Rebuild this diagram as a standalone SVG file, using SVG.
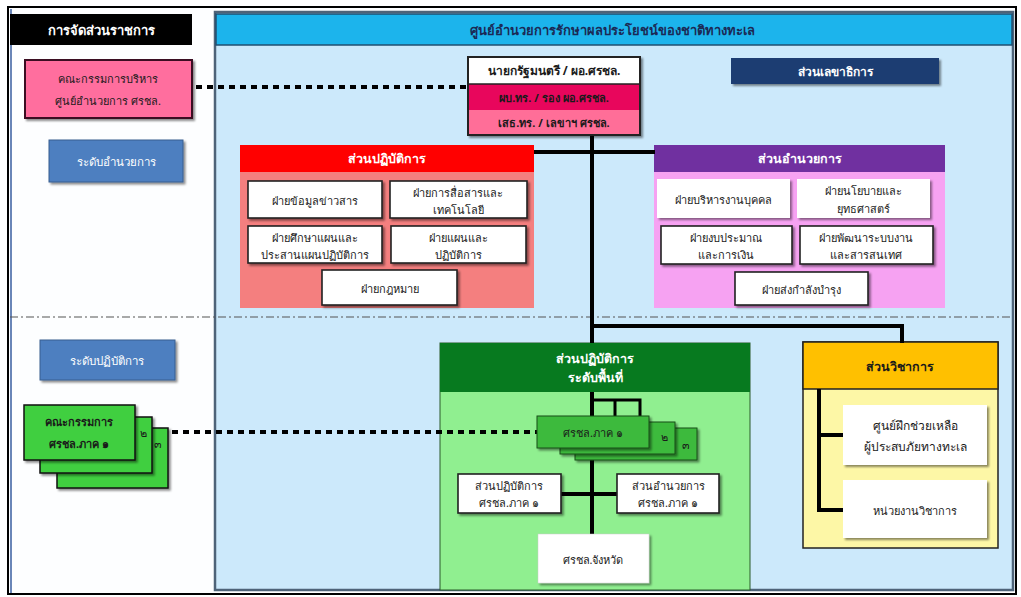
<svg xmlns="http://www.w3.org/2000/svg" width="1021" height="597" viewBox="0 0 1021 597">
<defs>
<filter id="sh" x="-10%" y="-10%" width="130%" height="140%"><feDropShadow dx="2" dy="2" stdDeviation="1.2" flood-color="#000" flood-opacity="0.45"/></filter>
<style>
text{font-family:"Noto Sans","DejaVu Sans","Liberation Sans",sans-serif;text-anchor:middle;dominant-baseline:central}
.t{font-size:11px;fill:#1a1a1a}
.hw{font-size:12.5px;font-weight:bold;fill:#fff}
.hd{font-size:12.5px;font-weight:bold;fill:#1a1a1a}
.wb{fill:#fff;stroke:#222;stroke-width:1.6;filter:url(#sh)}
.wn{fill:#fff;stroke:none;filter:url(#sh)}
.ln{fill:none;stroke:#000;stroke-width:4}
.ln2{fill:none;stroke:#000;stroke-width:3}
.dot{fill:none;stroke:#000;stroke-width:4;stroke-dasharray:6 5}
.dd{fill:none;stroke:#555;stroke-width:1.2;stroke-dasharray:8 3 2 3}
.rg{fill:#3dba3d;stroke:#1b4d1b;stroke-width:1;filter:url(#sh)}
.lg{fill:#3fcf3f;stroke:#111;stroke-width:1.5;filter:url(#sh)}
</style>
</defs>
<!-- background & frames -->
<rect x="0" y="0" width="1021" height="597" fill="#fff"/>
<rect x="8" y="7" width="1008" height="587" fill="#fdfeff" stroke="#000" stroke-width="2"/>
<line x1="11" y1="9" x2="11" y2="593" stroke="#6a86b8" stroke-width="2"/>
<rect x="215" y="12" width="798" height="578" fill="#cce9fb" stroke="#4e6378" stroke-width="2.5"/>
<g id="title"><rect x="216" y="14" width="796" height="31" fill="#1cb4ec" stroke="#1f4f70" stroke-width="1.5"/><text x="612" y="30" class="hd" style="fill:#1b2a55;font-size:13px">ศูนย์อำนวยการรักษาผลประโยชน์ของชาติทางทะเล</text></g>
<g id="label-org"><rect x="10" y="14" width="182" height="31" fill="#000"/><text x="101" y="30" class="hw" style="font-size:13px">การจัดส่วนราชการ</text></g>

<!-- divider -->
<line class="dd" x1="10" y1="317" x2="1012" y2="317"/>

<!-- section panels -->
<g id="ops-section">
<rect x="240" y="145" width="294" height="163" fill="#f47f7f"/>
<rect x="240" y="145" width="294" height="27" fill="#ff0000"/>
<text x="387" y="158" class="hw">ส่วนปฏิบัติการ</text>
</g>
<g id="admin-section">
<rect x="654" y="145" width="291" height="163" fill="#f6a2f2"/>
<rect x="654" y="145" width="291" height="27" fill="#7030a0"/>
<text x="800" y="158" class="hw">ส่วนอำนวยการ</text>
</g>
<g id="area-section">
<rect x="440" y="343" width="310" height="247" fill="#90ef90" stroke="#2a5a2a" stroke-width="1"/>
<rect x="440" y="343" width="310" height="49" fill="#077a1f"/>
<text x="595" y="358" class="hw">ส่วนปฏิบัติการ</text><text x="595" y="377" class="hw">ระดับพื้นที่</text>
</g>
<g id="special-section">
<rect x="803" y="342" width="195" height="206" fill="#fdf7a6" stroke="#222" stroke-width="1.5"/>
<rect x="803" y="342" width="195" height="47" fill="#ffc000" stroke="#222" stroke-width="1.5"/>
<text x="900" y="366" class="hd">ส่วนวิชาการ</text>
</g>

<!-- connectors -->
<g id="connectors">
<line class="dot" x1="196" y1="87" x2="468" y2="87"/>
<line class="dot" x1="150" y1="432" x2="537" y2="432"/>
<path class="ln" d="M592 135 V343"/>
<path class="ln" d="M534 152 H655"/>
<path class="ln" d="M592 326 H902 V343"/>
<path class="ln" d="M592 392 V535"/>
<path class="ln2" d="M592 400 H640 V428 M615 400 V423"/>
<path class="ln" d="M560 494 H618"/>
<path class="ln" d="M819 389 V510 H843 M819 435 H843"/>
</g>

<!-- left labels -->
<g id="committee"><rect x="25" y="60" width="167" height="58" fill="#ff6e9e" stroke="#3a1020" stroke-width="2" filter="url(#sh)"/><text x="108" y="78" class="t">คณะกรรมการบริหาร</text><text x="108" y="100" class="t">ศูนย์อำนวยการ ศรชล.</text></g>
<g id="level-admin"><rect x="49" y="140" width="134" height="42" fill="#4d7fc0" stroke="#3a5f90" stroke-width="1" filter="url(#sh)"/><text x="116" y="161" class="hw" style="font-size:11.5px;font-weight:normal">ระดับอำนวยการ</text></g>
<g id="level-ops"><rect x="40" y="340" width="135" height="40" fill="#4d7fc0" stroke="#3a5f90" stroke-width="1" filter="url(#sh)"/><text x="107" y="360" class="hw" style="font-size:11.5px;font-weight:normal">ระดับปฏิบัติการ</text></g>
<g id="regional-committee">
<rect x="57" y="428" width="111" height="60" class="lg"/>
<rect x="40" y="417" width="112" height="56" class="lg"/>
<text x="158" y="443" class="t">๓</text><text x="143" y="432" class="t">๒</text>
<rect x="24" y="405" width="111" height="55" class="lg"/>
<text x="79" y="421" class="t" style="font-weight:bold">คณะกรรมการ</text><text x="79" y="443" class="t" style="font-weight:bold">ศรชล.ภาค ๑</text></g>

<!-- top center -->
<g id="pm">
<rect x="468" y="57" width="172" height="78" fill="#fff" stroke="#222" stroke-width="2" filter="url(#sh)"/>
<rect x="469" y="84" width="170" height="26" fill="#e8065c"/>
<rect x="469" y="110" width="170" height="24" fill="#ff6e98"/>
<line x1="468" y1="84" x2="640" y2="84" stroke="#222" stroke-width="1.5"/>
<text x="554" y="70" class="t" style="font-weight:bold;font-size:12px">นายกรัฐมนตรี / ผอ.ศรชล.</text>
<text x="554" y="97" class="t" style="font-weight:bold">ผบ.ทร. / รอง ผอ.ศรชล.</text>
<text x="554" y="122" class="t" style="font-weight:bold">เสธ.ทร. / เลขาฯ ศรชล.</text>
</g>
<g id="secretariat"><rect x="731" y="58" width="208" height="26" fill="#1f3e72" filter="url(#sh)"/><text x="835" y="71" class="hw" style="font-size:12px">ส่วนเลขาธิการ</text></g>

<!-- red section units -->
<g id="ops-units">
<rect x="248" y="181" width="134" height="37" class="wb"/><text x="315" y="200" class="t">ฝ่ายข้อมูลข่าวสาร</text>
<rect x="390" y="181" width="137" height="37" class="wb"/><text x="458" y="192" class="t">ฝ่ายการสื่อสารและ</text><text x="458" y="209" class="t">เทคโนโลยี</text>
<rect x="248" y="226" width="134" height="37" class="wb"/><text x="315" y="237" class="t">ฝ่ายศึกษาแผนและ</text><text x="315" y="254" class="t">ประสานแผนปฏิบัติการ</text>
<rect x="391" y="226" width="135" height="37" class="wb"/><text x="458" y="237" class="t">ฝ่ายแผนและ</text><text x="458" y="254" class="t">ปฏิบัติการ</text>
<rect x="322" y="270" width="135" height="35" class="wb"/><text x="390" y="288" class="t">ฝ่ายกฎหมาย</text>
</g>

<!-- purple section units -->
<g id="admin-units">
<rect x="657" y="179" width="133" height="39" class="wn"/><text x="723" y="199" class="t">ฝ่ายบริหารงานบุคคล</text>
<rect x="797" y="179" width="133" height="39" class="wn"/><text x="863" y="190" class="t">ฝ่ายนโยบายและ</text><text x="863" y="208" class="t">ยุทธศาสตร์</text>
<rect x="661" y="226" width="131" height="38" class="wb"/><text x="726" y="237" class="t">ฝ่ายงบประมาณ</text><text x="726" y="254" class="t">และการเงิน</text>
<rect x="800" y="226" width="133" height="38" class="wb"/><text x="866" y="237" class="t">ฝ่ายพัฒนาระบบงาน</text><text x="866" y="254" class="t">และสารสนเทศ</text>
<rect x="735" y="272" width="133" height="33" class="wb"/><text x="801" y="289" class="t">ฝ่ายส่งกำลังบำรุง</text>
</g>

<!-- green section units -->
<g id="regions">
<rect x="575" y="428" width="122" height="32" class="rg"/><text x="686" y="444" class="t">๓</text>
<rect x="560" y="422" width="115" height="32" class="rg"/><text x="664" y="436" class="t">๒</text>
<rect x="537" y="416" width="112" height="32" class="rg"/><text x="593" y="432" class="t">ศรชล.ภาค ๑</text>
</g>
<g id="region-ops"><rect x="458" y="474" width="103" height="39" class="wb"/><text x="509" y="485" class="t">ส่วนปฏิบัติการ</text><text x="509" y="502" class="t">ศรชล.ภาค ๑</text></g>
<g id="region-admin"><rect x="617" y="474" width="102" height="39" class="wb"/><text x="668" y="485" class="t">ส่วนอำนวยการ</text><text x="668" y="502" class="t">ศรชล.ภาค ๑</text></g>
<g id="province"><rect x="538" y="534" width="111" height="49" class="wn" style="stroke:#ccc;stroke-width:0.5"/><text x="593" y="559" class="t">ศรชล.จังหวัด</text></g>

<!-- yellow section units -->
<g id="training-center"><rect x="843" y="405" width="144" height="60" class="wn"/><text x="915" y="425" class="t" style="font-size:12px">ศูนย์ฝึกช่วยเหลือ</text><text x="915" y="446" class="t" style="font-size:12px">ผู้ประสบภัยทางทะเล</text></g>
<g id="academic-unit"><rect x="843" y="480" width="144" height="58" class="wn"/><text x="915" y="510" class="t">หน่วยงานวิชาการ</text></g>
</svg>
